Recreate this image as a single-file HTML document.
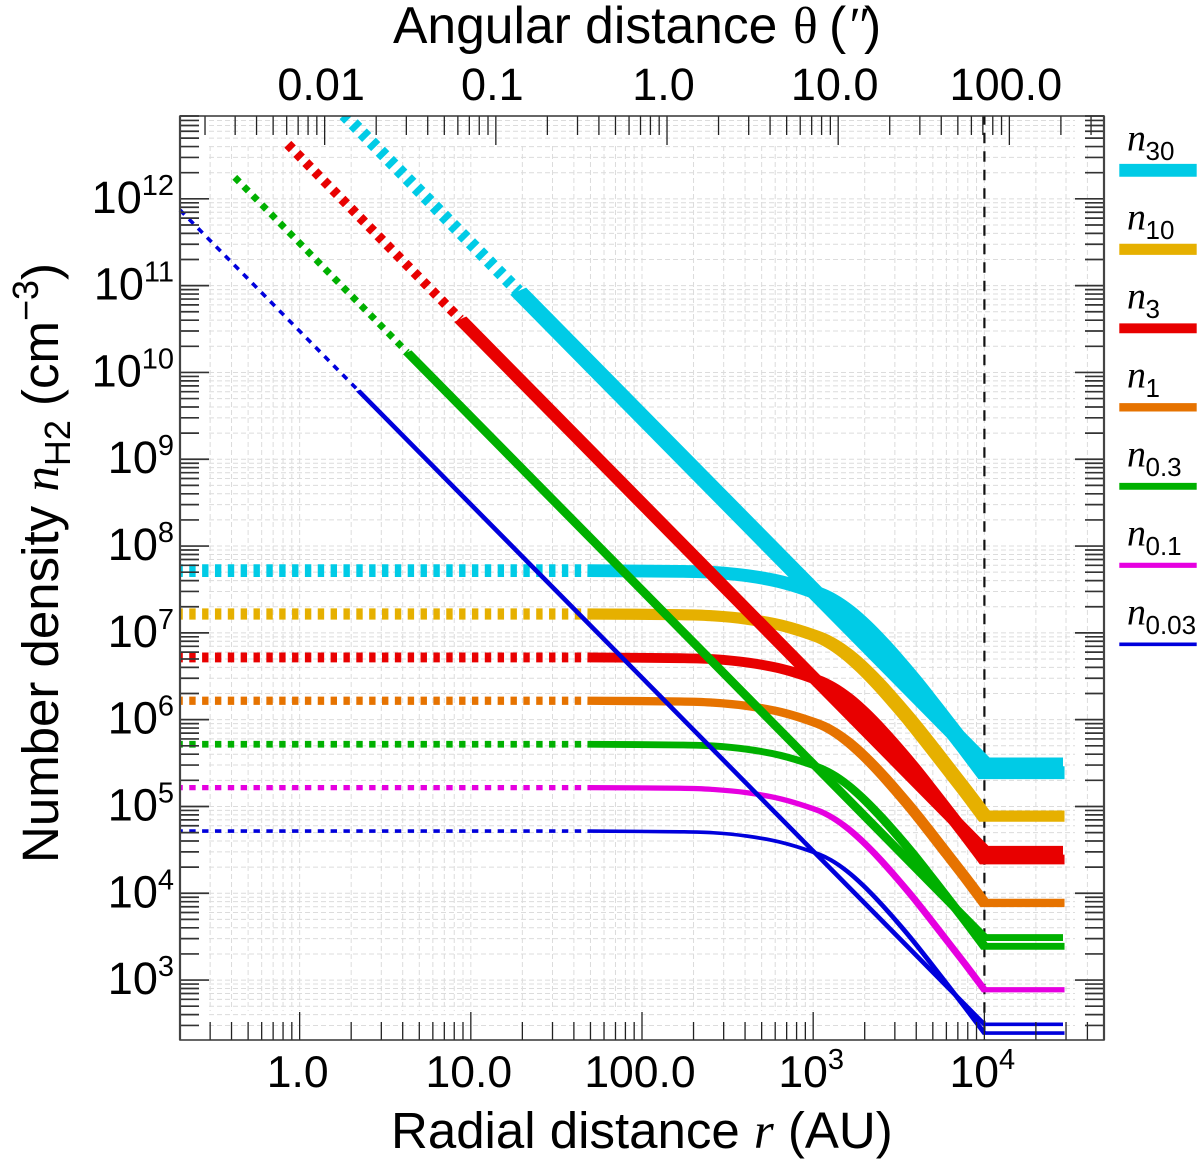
<!DOCTYPE html>
<html lang="en">
<head>
<meta charset="utf-8">
<title>Number density profiles</title>
<style>
html,body{margin:0;padding:0;background:#fff;}
svg{display:block;font-family:"Liberation Sans",sans-serif;fill:#000;}
.it{font-family:"Liberation Serif",serif;font-style:italic;}
.sf{font-family:"Liberation Serif",serif;}
</style>
</head>
<body>
<svg id="chart" xmlns="http://www.w3.org/2000/svg" width="1200" height="1160" viewBox="0 0 1200 1160">
  <defs>
    <clipPath id="plot-clip"><rect x="178" y="116" width="926" height="924"/></clipPath>
  </defs>
  <rect x="0" y="0" width="1200" height="1160" fill="#fff"/>
  <g id="grid"></g>
  <line x1="984.4" x2="984.4" y1="116" y2="1040" stroke="#111" stroke-width="2.2" stroke-dasharray="10.5 8" stroke-dashoffset="1.8"/>
  <g id="series" clip-path="url(#plot-clip)" fill="none"></g>
  <g id="ticks"></g>
  <rect x="180" y="116" width="924" height="924" fill="none" stroke="#333" stroke-width="1.5"/>
  <line x1="180" x2="180" y1="116" y2="1040" stroke="#444" stroke-width="2.2"/>
  <line x1="1104" x2="1104" y1="116" y2="1040" stroke="#444" stroke-width="2.2"/>
  <g id="tick-labels"></g>
  <g id="legend"></g>

  <text y="43" font-size="51.6"><tspan x="393">Angular distance</tspan><tspan class="sf" x="793">θ</tspan><tspan x="829">(</tspan><tspan class="it" x="846">″</tspan><tspan x="864">)</tspan></text>
  <text x="391" y="1148" font-size="51">Radial distance <tspan class="it">r</tspan> (AU)</text>
  <text transform="translate(58,863) rotate(-90)" font-size="51">Number density <tspan class="it">n</tspan><tspan font-size="36" dy="12">H2</tspan><tspan dy="-12"> (cm</tspan><tspan font-size="36" dy="-20">−3</tspan><tspan dy="20">)</tspan></text>
</svg>
<script>
// Axis tick values and labels
const xDecades = [0.1, 1, 10, 100, 1000, 10000];
const xTickValues = [1, 10, 100, 1000, 10000];
const xTickLabels = ['1.0', '10.0', '100.0', '10|3', '10|4'];
const thetaDecades = [0.001, 0.01, 0.1, 1, 10, 100];
const thetaTickValues = [0.01, 0.1, 1, 10, 100];
const thetaTickLabels = ['0.01', '0.1', '1.0', '10.0', '100.0'];
const yDecades = [100, 1e3, 1e4, 1e5, 1e6, 1e7, 1e8, 1e9, 1e10, 1e11, 1e12];
const yTickLabelExponents = [3, 4, 5, 6, 7, 8, 9, 10, 11, 12];
const minorMultipliers = [2, 3, 4, 5, 6, 7, 8, 9];
const distancePc = 140;

// Radial grid of the flat-core profiles (AU)
const plateauRadii = [0.2, 48, 167, 260, 410, 640, 1000, 1260, 1580, 1960, 2460, 3090, 3840, 4820, 6050, 7700, 10000, 29400];

// Flat-core profiles (cm^-3)
const n30Plateau  = [5.21e7, 5.21e7, 5.11e7, 4.98e7, 4.56e7, 3.89e7, 2.98e7, 2.43e7, 1.79e7, 1.23e7, 7.77e6, 4.69e6, 2.82e6, 1.60e6, 8.99e5, 4.86e5, 2.45e5, 2.45e5];
const n10Plateau  = [1.65e7, 1.65e7, 1.62e7, 1.57e7, 1.44e7, 1.23e7, 9.42e6, 7.68e6, 5.66e6, 3.89e6, 2.46e6, 1.48e6, 8.91e5, 5.06e5, 2.84e5, 1.54e5, 7.74e4, 7.74e4];
const n3Plateau   = [5.21e6, 5.21e6, 5.11e6, 4.98e6, 4.56e6, 3.89e6, 2.98e6, 2.43e6, 1.79e6, 1.23e6, 7.77e5, 4.69e5, 2.82e5, 1.60e5, 8.99e4, 4.86e4, 2.45e4, 2.45e4];
const n1Plateau   = [1.65e6, 1.65e6, 1.62e6, 1.57e6, 1.44e6, 1.23e6, 9.42e5, 7.68e5, 5.66e5, 3.89e5, 2.46e5, 1.48e5, 8.91e4, 5.06e4, 2.84e4, 1.54e4, 7.74e3, 7.74e3];
const n03Plateau  = [5.21e5, 5.21e5, 5.11e5, 4.98e5, 4.56e5, 3.89e5, 2.98e5, 2.43e5, 1.79e5, 1.23e5, 7.77e4, 4.69e4, 2.82e4, 1.60e4, 8.99e3, 4.86e3, 2.45e3, 2.45e3];
const n01Plateau  = [1.65e5, 1.65e5, 1.62e5, 1.57e5, 1.44e5, 1.23e5, 9.42e4, 7.68e4, 5.66e4, 3.89e4, 2.46e4, 1.48e4, 8.91e3, 5.06e3, 2.84e3, 1.54e3, 774, 774];
const n003Plateau = [5.21e4, 5.21e4, 5.11e4, 4.98e4, 4.56e4, 3.89e4, 2.98e4, 2.43e4, 1.79e4, 1.23e4, 7.77e3, 4.69e3, 2.82e3, 1.60e3, 899, 486, 245, 245];

// Singular power-law profiles: radii (AU) and densities (cm^-3)
const n30SteepRadii  = [1.82, 18.9, 10000, 28800];
const n30Steep       = [9.33e12, 8.65e10, 3.09e5, 3.09e5];
const n3SteepRadii   = [0.853, 8.67, 10000, 28800];
const n3Steep        = [4.25e12, 4.11e10, 3.09e4, 3.09e4];
const n03SteepRadii  = [0.418, 4.25, 10000, 28800];
const n03Steep       = [1.77e12, 1.71e10, 3090, 3090];
const n003SteepRadii = [0.2, 2.2, 10000, 28800];
const n003Steep      = [7.43e11, 6.2e9, 309, 309];

// Legend labels
const legendBase = ['n', 'n', 'n', 'n', 'n', 'n', 'n'];
const legendSubscripts = ['30', '10', '3', '1', '0.3', '0.1', '0.03'];
const seriesColors = ['#00cbe6', '#e6b000', '#e80000', '#e67300', '#00b000', '#e600e0', '#0000dc'];
const seriesWidths = [12.8, 11.2, 9.8, 8.3, 6.8, 5.2, 3.6];

const plateauSeries = [n30Plateau, n10Plateau, n3Plateau, n1Plateau, n03Plateau, n01Plateau, n003Plateau];
const steepSeries = [
  [0, n30SteepRadii, n30Steep],
  [2, n3SteepRadii, n3Steep],
  [4, n03SteepRadii, n03Steep],
  [6, n003SteepRadii, n003Steep]
];

const NS = 'http://www.w3.org/2000/svg';
const plot = {left: 180, right: 1104, top: 116, bottom: 1040};
const rMin = 0.2, rMax = 5e4, nMin = 204, nMax = 9e12;
const penStretch = 1.5;

function xScale(r) {
  return plot.left + (Math.log10(r) - Math.log10(rMin)) / (Math.log10(rMax) - Math.log10(rMin)) * (plot.right - plot.left);
}
function yScale(n) {
  return plot.bottom - (Math.log10(n) - Math.log10(nMin)) / (Math.log10(nMax) - Math.log10(nMin)) * (plot.bottom - plot.top);
}
function svgEl(tag, attrs, parent) {
  const el = document.createElementNS(NS, tag);
  for (const k in attrs) el.setAttribute(k, attrs[k]);
  parent.appendChild(el);
  return el;
}
function dashedPath(radii, values) {
  return 'M' + xScale(radii[0]).toFixed(2) + ' ' + yScale(values[0]).toFixed(2) +
         'L' + xScale(radii[1]).toFixed(2) + ' ' + yScale(values[1]).toFixed(2);
}
// Smooth curve from index 1 to the corner at the second-to-last point, then a straight flat tail.
// The x coordinates are divided by penStretch; the path's transform scales them back, widening the pen in x.
function solidPath(radii, values) {
  const pts = [];
  for (let i = 1; i < radii.length; i++) pts.push([xScale(radii[i]) / penStretch, yScale(values[i])]);
  const corner = pts.length - 2;
  let d = 'M' + pts[0][0].toFixed(2) + ' ' + pts[0][1].toFixed(2);
  for (let i = 0; i < corner; i++) {
    const p0 = pts[Math.max(i - 1, 0)], p1 = pts[i], p2 = pts[i + 1], p3 = pts[Math.min(i + 2, corner)];
    d += 'C' + (p1[0] + (p2[0] - p0[0]) / 6).toFixed(2) + ' ' + (p1[1] + (p2[1] - p0[1]) / 6).toFixed(2) + ' ' +
         (p2[0] - (p3[0] - p1[0]) / 6).toFixed(2) + ' ' + (p2[1] - (p3[1] - p1[1]) / 6).toFixed(2) + ' ' +
         p2[0].toFixed(2) + ' ' + p2[1].toFixed(2);
  }
  d += 'L' + pts[corner + 1][0].toFixed(2) + ' ' + pts[corner + 1][1].toFixed(2);
  return d;
}

const gridG = document.getElementById('grid');
const ticksG = document.getElementById('ticks');
const labelsG = document.getElementById('tick-labels');
const seriesG = document.getElementById('series');
const legendG = document.getElementById('legend');

// Vertical grid and bottom ticks
xDecades.forEach(function (d) {
  [1].concat(minorMultipliers).forEach(function (m) {
    const r = d * m;
    if (r < rMin || r > rMax) return;
    const x = xScale(r);
    const major = m === 1;
    if (r > rMin * 1.01 && r < rMax * 0.99) {
      const g = svgEl('line', {x1: x, x2: x, y1: 146, y2: 1011, stroke: '#dcdcdc', 'stroke-width': 1, 'stroke-dasharray': '5 3'}, gridG);
      
      
    }
    const t = svgEl('line', {x1: x, x2: x, y1: plot.bottom, y2: plot.bottom - (major ? 28 : 18), stroke: '#222', 'stroke-width': 1.3}, ticksG);
    
    
  });
});

// Top ticks (angular distance)
thetaDecades.forEach(function (d) {
  [1].concat(minorMultipliers).forEach(function (m) {
    const r = d * m * distancePc;
    if (r < rMin || r > rMax) return;
    const x = xScale(r);
    const t = svgEl('line', {x1: x, x2: x, y1: plot.top, y2: plot.top + (m === 1 ? 29 : 19), stroke: '#222', 'stroke-width': 1.3}, ticksG);
    
    
  });
});

// Horizontal grid, left and right ticks
yDecades.forEach(function (d) {
  [1].concat(minorMultipliers).forEach(function (m) {
    const n = d * m;
    if (n < nMin || n > nMax) return;
    const y = yScale(n);
    const len = m === 1 ? 29 : 19;
    const g = svgEl('line', {x1: 209, x2: 1075, y1: y, y2: y, stroke: '#dcdcdc', 'stroke-width': 1, 'stroke-dasharray': '5 3'}, gridG);
    
    
    const a = svgEl('line', {x1: plot.left, x2: plot.left + len, y1: y, y2: y, stroke: '#333', 'stroke-width': 1.7}, ticksG);
    
    
    const b = svgEl('line', {x1: plot.right, x2: plot.right - len, y1: y, y2: y, stroke: '#333', 'stroke-width': 1.7}, ticksG);
    
    
  });
});

// Bottom labels
xTickValues.forEach(function (v, i) {
  const parts = xTickLabels[i].split('|');
  const t = svgEl('text', {x: xScale(v) - 2, y: 1087, 'font-size': 44.5, 'text-anchor': 'middle'}, labelsG);
  
  
  t.textContent = parts[0];
  if (parts[1]) {
    const s = svgEl('tspan', {'font-size': 29, dy: -18}, t);
    s.textContent = parts[1];
  }
});

// Top labels
thetaTickValues.forEach(function (v, i) {
  const t = svgEl('text', {x: xScale(v * distancePc) - 3.5, y: 100, 'font-size': 45, 'text-anchor': 'middle'}, labelsG);
  
  
  t.textContent = thetaTickLabels[i];
});

// Left labels
yTickLabelExponents.forEach(function (e) {
  const t = svgEl('text', {x: 174, y: yScale(Math.pow(10, e)) + 14, 'font-size': 45, 'text-anchor': 'end'}, labelsG);
  
  
  t.textContent = '10';
  const s = svgEl('tspan', {'font-size': 29, dy: -18}, t);
  s.textContent = String(e);
});

// Flat-core curves
const plateauDashOffset = 3.6;
plateauSeries.forEach(function (vals, i) {
  const dash = svgEl('path', {d: dashedPath(plateauRadii, vals), stroke: seriesColors[i], 'stroke-width': seriesWidths[i], 'stroke-dasharray': '6.4 6.45', 'stroke-dashoffset': plateauDashOffset}, seriesG);
  
  
  const solid = svgEl('path', {d: solidPath(plateauRadii, vals), transform: 'scale(' + penStretch + ',1)', stroke: seriesColors[i], 'stroke-width': seriesWidths[i], 'stroke-linejoin': 'miter', 'stroke-miterlimit': 6}, seriesG);
  
  
});

// Power-law curves
steepSeries.forEach(function (s) {
  const idx = s[0], radii = s[1], vals = s[2];
  const dash = svgEl('path', {d: dashedPath(radii, vals), stroke: seriesColors[idx], 'stroke-width': seriesWidths[idx], 'stroke-dasharray': '6.4 6.45'}, seriesG);
  
  
  const solid = svgEl('path', {d: solidPath(radii, vals), transform: 'scale(' + penStretch + ',1)', stroke: seriesColors[idx], 'stroke-width': seriesWidths[idx], 'stroke-linejoin': 'miter', 'stroke-miterlimit': 6}, seriesG);
  
  
});

// Legend
legendSubscripts.forEach(function (sub, i) {
  const cy = 170.3 + i * 79;
  const entry = svgEl('g', {}, legendG);
  
  
  const sw = svgEl('line', {x1: 1119.3, x2: 1196.7, y1: cy, y2: cy, stroke: seriesColors[i], 'stroke-width': seriesWidths[i]}, entry);
  
  
  const t = svgEl('text', {x: 1127, y: cy - 19.6, 'font-size': 38, 'class': 'it'}, entry);
  
  
  t.textContent = legendBase[i];
  const s = svgEl('text', {x: 1145.5, y: cy - 10.3, 'font-size': 26}, entry);
  
  
  s.textContent = sub;
});
</script>
</body>
</html>
